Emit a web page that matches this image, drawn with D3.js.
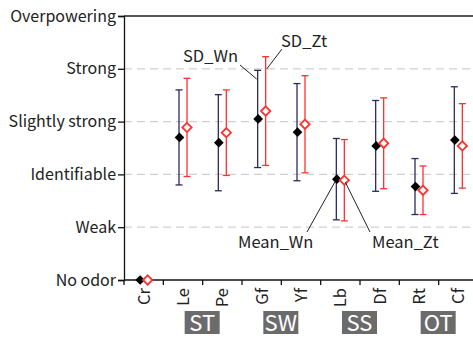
<!DOCTYPE html>
<html>
<head>
<meta charset="utf-8">
<script src="https://cdn.jsdelivr.net/npm/d3@7"></script>
<style>
  html, body { margin: 0; padding: 0; background: #fff; }
  svg { display: block; }
</style>
</head>
<body>
<svg id="chart" width="473" height="338"></svg>
<script>
// Odor categories and intensity scale
const categories = ["Cr", "Le", "Pe", "Gf", "Yf", "Lb", "Df", "Rt", "Cf"];
const intensityLabels = ["No odor", "Weak", "Identifiable", "Slightly strong", "Strong", "Overpowering"];

// Mean and standard deviation for each panel
const meanWn = [0, 2.70, 2.60, 3.05, 2.80, 1.91, 2.54, 1.77, 2.65];
const sdWn   = [0, 0.90, 0.91, 0.92, 0.92, 0.77, 0.86, 0.53, 1.01];
const meanZt = [0, 2.89, 2.79, 3.20, 2.95, 1.89, 2.59, 1.70, 2.54];
const sdZt   = [0, 0.93, 0.81, 1.03, 0.92, 0.77, 0.86, 0.46, 0.80];

// Group labels spanning pairs of categories
const groups = [
  { name: "ST", from: "Le", to: "Pe" },
  { name: "SW", from: "Gf", to: "Yf" },
  { name: "SS", from: "Lb", to: "Df" },
  { name: "OT", from: "Rt", to: "Cf" }
];

(function () {
  const font = "'Noto Sans CJK JP', 'Noto Sans', sans-serif";
  const colWn = "#2b2b5c";
  const colZt = "#ff3030";

  const svg = d3.select("#chart");
  const plotLeft = 124, plotRight = 478, plotTop = 16, plotBottom = 280;

  const x = d3.scaleBand().domain(categories).range([plotLeft, plotRight]);
  const y = d3.scaleLinear().domain([0, 5]).range([plotBottom, plotTop]);

  // Dashed gridlines
  svg.append("g").selectAll("line")
    .data([1, 2, 3, 4]).join("line")
    .attr("x1", plotLeft).attr("x2", 473)
    .attr("y1", d => y(d)).attr("y2", d => y(d))
    .attr("stroke", "#d0d0d0").attr("stroke-width", 1.3)
    .attr("stroke-dasharray", "8,5");

  // Top frame line
  svg.append("line")
    .attr("x1", plotLeft).attr("x2", 473)
    .attr("y1", y(5)).attr("y2", y(5))
    .attr("stroke", "#222").attr("stroke-width", 1.3);

  // Y axis
  const yAxis = d3.axisLeft(y).tickValues([0, 1, 2, 3, 4, 5])
    .tickFormat(d => intensityLabels[d]).tickSize(6).tickPadding(2);
  const gy = svg.append("g").attr("transform", `translate(${plotLeft},0)`).call(yAxis);
  gy.select(".domain").attr("stroke", "#111").attr("stroke-width", 1.3);
  gy.selectAll(".tick line").attr("stroke", "#111").attr("stroke-width", 1.3);
  gy.selectAll("text").attr("font-family", font).attr("font-size", 16).attr("fill", "#222");

  // X axis with ticks at category boundaries
  const gx = svg.append("g").attr("transform", `translate(0,${plotBottom})`);
  gx.append("line").attr("x1", plotLeft).attr("x2", 473)
    .attr("stroke", "#111").attr("stroke-width", 1.3);
  gx.selectAll(".bt").data(categories).join("line").attr("class", "bt")
    .attr("x1", d => x(d)).attr("x2", d => x(d))
    .attr("y1", 0).attr("y2", 5)
    .attr("stroke", "#111").attr("stroke-width", 1.3);
  gx.selectAll("text").data(categories).join("text")
    .attr("transform", d => `translate(${x(d) + x.bandwidth() / 2 + 6},8) rotate(-90)`)
    .attr("text-anchor", "end")
    .attr("font-family", font).attr("font-size", 16.5).attr("fill", "#222")
    .text(d => d);

  // Group tags
  const tags = svg.append("g");
  groups.forEach(g => {
    const gcx = (x(g.from) + x(g.to) + x.bandwidth()) / 2;
    tags.append("rect").attr("x", gcx - 18).attr("y", 311).attr("width", 35).attr("height", 23)
      .attr("fill", "#6b6b6b");
    tags.append("text").attr("x", gcx - 0.5).attr("y", 331).attr("text-anchor", "middle")
      .attr("font-family", font).attr("font-size", 22).attr("fill", "#fff").text(g.name);
  });

  const off = 4;
  const rows = categories.map((c, i) => ({ c, mW: meanWn[i], sW: sdWn[i], mZ: meanZt[i], sZ: sdZt[i] }));
  const cx = d => x(d.c) + x.bandwidth() / 2;

  // Error bars
  function bars(xoff, m, s, color) {
    const g = svg.append("g");
    const data = rows.filter(d => d[s] > 0);
    g.selectAll("line.v").data(data).join("line").attr("class", "v")
      .attr("x1", d => cx(d) + xoff).attr("x2", d => cx(d) + xoff)
      .attr("y1", d => y(d[m] + d[s])).attr("y2", d => y(d[m] - d[s]))
      .attr("stroke", color).attr("stroke-width", 1.3);
    [1, -1].forEach((sign, k) => {
      g.selectAll("line.c" + k).data(data).join("line").attr("class", "c" + k)
        .attr("x1", d => cx(d) + xoff - 3.5).attr("x2", d => cx(d) + xoff + 3.5)
        .attr("y1", d => y(d[m] + sign * d[s])).attr("y2", d => y(d[m] + sign * d[s]))
        .attr("stroke", color).attr("stroke-width", 1.3);
    });
  }
  bars(-off, "mW", "sW", colWn);
  bars(off, "mZ", "sZ", colZt);

  // Mean markers
  const diamond = d3.symbol().type(d3.symbolDiamond2);
  svg.append("g").selectAll("path").data(rows).join("path")
    .attr("d", diamond.size(60)())
    .attr("transform", d => `translate(${cx(d) - off + 0.5},${y(d.mW)})`)
    .attr("fill", "#000");
  svg.append("g").selectAll("path").data(rows).join("path")
    .attr("d", diamond.size(55)())
    .attr("transform", d => `translate(${cx(d) + off},${y(d.mZ)})`)
    .attr("fill", "#fff").attr("stroke", colZt).attr("stroke-width", 1.8);

  // Callout labels
  const gf = rows[3], lb = rows[5];
  const notes = svg.append("g").attr("font-family", font).attr("font-size", 16.5).attr("fill", "#222");
  const leader = (x1, y1, x2, y2) => svg.append("line")
    .attr("x1", x1).attr("y1", y1).attr("x2", x2).attr("y2", y2)
    .attr("stroke", "#222").attr("stroke-width", 1);

  notes.append("text").attr("x", 183).attr("y", 62).text("SD_Wn");
  leader(240, 65, cx(gf) - off - 1, 79);
  notes.append("text").attr("x", 281).attr("y", 47).text("SD_Zt");
  leader(282, 49, cx(gf) + off + 1, 69);
  notes.append("text").attr("x", 238).attr("y", 248).text("Mean_Wn");
  leader(307, 232, cx(lb) - off - 1, y(lb.mW) + 2);
  notes.append("text").attr("x", 372).attr("y", 248).text("Mean_Zt");
  leader(370, 232, cx(lb) + off + 1, y(lb.mZ) + 2);
})();
</script>
</body>
</html>
